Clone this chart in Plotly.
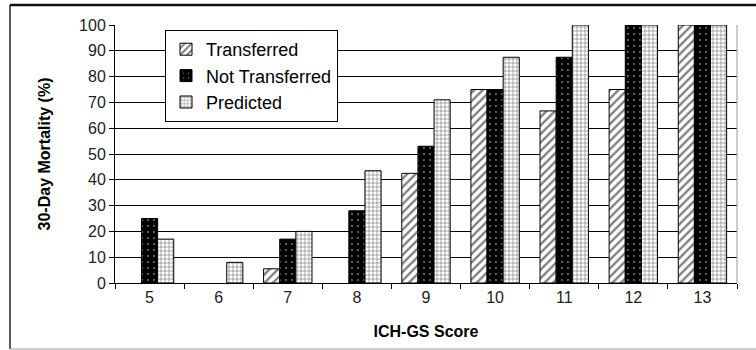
import plotly.graph_objects as go

categories = ["5", "6", "7", "8", "9", "10", "11", "12", "13"]
transferred = [0, 0, 5.5, 0, 42.5, 75, 66.7, 75, 100]
not_transferred = [25, 0, 17, 28, 53, 75, 87.5, 100, 100]
predicted = [17, 8, 20, 43.5, 71, 87.5, 100, 100, 100]
y_ticks = [0, 10, 20, 30, 40, 50, 60, 70, 80, 90, 100]


def nz(vals):
    # zero-height bars are not drawn in the original
    return [v if v else None for v in vals]


fig = go.Figure()
fig.add_trace(go.Bar(x=categories, y=nz(transferred), name="Transferred",
    marker=dict(color="white", line=dict(color="black", width=1),
                pattern=dict(shape="/", fgcolor="black", bgcolor="white", size=6, solidity=0.4))))
fig.add_trace(go.Bar(x=categories, y=nz(not_transferred), name="Not Transferred",
    marker=dict(color="black", line=dict(color="black", width=1),
                pattern=dict(shape=".", fgcolor="white", bgcolor="black", size=6, solidity=0.08))))
fig.add_trace(go.Bar(x=categories, y=nz(predicted), name="Predicted",
    marker=dict(color="white", line=dict(color="black", width=1),
                pattern=dict(shape="+", fgcolor="black", bgcolor="white", size=4, solidity=0.3))))

W, H = 756, 350
L, R, T, B = 115, 737, 25, 283
pw, ph = R - L, B - T


def px(x):
    return (x - L) / pw


def py(y):
    return (B - y) / ph


fig.update_layout(
    width=W, height=H,
    margin=dict(l=L, r=W - R, t=T, b=H - B, autoexpand=False),
    paper_bgcolor="white", plot_bgcolor="white",
    barmode="group", bargap=0.3, bargroupgap=0,
    font=dict(family="Arial, Liberation Sans, sans-serif", color="#222"),
    legend=dict(x=px(165), y=py(30), xanchor="left", yanchor="top",
                bgcolor="white", bordercolor="black", borderwidth=1,
                font=dict(size=18, color="black"), itemwidth=30),
    xaxis=dict(type="category", tickson="boundaries", ticks="outside", ticklen=5,
        tickcolor="black", showline=True, linecolor="black", linewidth=1,
        tickfont=dict(size=16, color="#222"), automargin=False,
        title=dict(text="<b>ICH-GS Score</b>", font=dict(size=16, color="black"), standoff=20)),
    yaxis=dict(range=[0, 100], tickvals=y_ticks, ticks="outside", ticklen=5,
        tickcolor="black", showline=True, linecolor="black", linewidth=1,
        showgrid=True, gridcolor="black", gridwidth=1,
        tickfont=dict(size=16, color="#222"), automargin=False,
        title=dict(text="<b>30-Day Mortality (%)</b>", font=dict(size=16, color="black"), standoff=24)),
)

# plot-area right border (gray)
fig.add_shape(type="line", xref="paper", yref="paper", x0=1, x1=1, y0=0, y1=1,
              line=dict(color="#999", width=1))
# outer chart border
fig.add_shape(type="line", xref="paper", yref="paper", x0=px(10), x1=px(760), y0=py(5), y1=py(5),
              line=dict(color="#111", width=2.5))
fig.add_shape(type="line", xref="paper", yref="paper", x0=px(10), x1=px(10), y0=py(5), y1=py(349),
              line=dict(color="#222", width=1.5))
fig.add_shape(type="line", xref="paper", yref="paper", x0=px(10), x1=px(760), y0=py(349), y1=py(349),
              line=dict(color="#bbb", width=1.5))

fig.write_html("out.html", config={"displayModeBar": False},
               post_script="document.body.style.margin='0';document.body.style.overflow='hidden';")
